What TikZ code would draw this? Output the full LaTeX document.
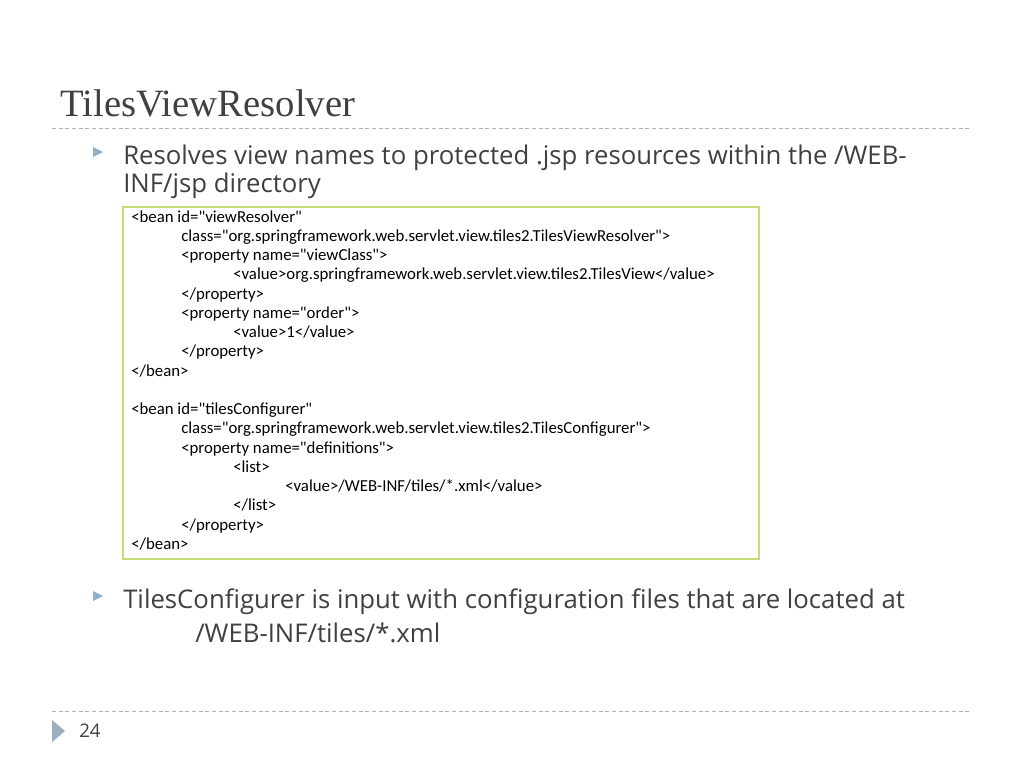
\documentclass[tikz,border=0pt]{standalone}
\usepackage{fontspec}
\setmainfont{Open Sans}
\newfontfamily\titlefont{Liberation Serif}
\newfontfamily\codefont{Carlito}
\definecolor{txtgray}{HTML}{404040}
\definecolor{rulegray}{HTML}{A8B4BC}
\definecolor{boxgreen}{HTML}{C4DD78}
\definecolor{bulblue}{HTML}{8FAFCB}
\tikzset{
  txt/.style={anchor=base west, inner sep=0pt, text=txtgray, font=\fontsize{19.3pt}{22pt}\selectfont},
  code/.style={anchor=base west, inner sep=0pt, text=black, font=\codefont\fontsize{12.6pt}{14pt}\selectfont},
  bul/.style={fill=bulblue, draw=none},
  sep/.style={rulegray, dashed, dash pattern=on 3pt off 2pt, line width=0.6pt}
}
\begin{document}
\begin{tikzpicture}[x=0.75pt, y=-0.75pt]
  \useasboundingbox (0,0) rectangle (1024,768);
  \fill[white] (0,0) rectangle (1024,768);
  % title
  \node[txt, font=\titlefont\fontsize{29pt}{32pt}\selectfont] (title) at (60,116) {TilesViewResolver};
  \draw[sep] (52,128) -- (972,128);
  % first bullet
  \fill[bul] (93,147) -- (103,152) -- (93,157) -- cycle;
  \node[txt] (b1) at (123,164) {Resolves view names to protected .jsp resources within the /WEB-};
  \node[txt] (b1b) at (123,192) {INF/jsp directory};
  % code box
  \draw[boxgreen, line width=1.2pt] (123,207) rectangle (759,559);
  \foreach \ind/\ln/\t in {
    131/0/{<bean id="viewResolver"},
    181/1/{class="org.springframework.web.servlet.view.tiles2.TilesViewResolver">},
    181/2/{<property name="viewClass">},
    233/3/{<value>org.springframework.web.servlet.view.tiles2.TilesView</value>},
    181/4/{</property>},
    181/5/{<property name="order">},
    233/6/{<value>1</value>},
    181/7/{</property>},
    131/8/{</bean>},
    131/10/{<bean id="tilesConfigurer"},
    181/11/{class="org.springframework.web.servlet.view.tiles2.TilesConfigurer">},
    181/12/{<property name="definitions">},
    233/13/{<list>},
    285/14/{<value>/WEB-INF/tiles/*.xml</value>},
    233/15/{</list>},
    181/16/{</property>},
    131/17/{</bean>}}
    \node[code] (c\ln) at (\ind,222+19.25*\ln) {\t};
  % second bullet
  \fill[bul] (93,591) -- (103,596) -- (93,601) -- cycle;
  \node[txt] (b2) at (123,608) {TilesConfigurer is input with configuration files that are located at};
  \node[txt] (b2b) at (195,642) {/WEB-INF/tiles/*.xml};
  % footer
  \draw[sep] (52,711) -- (972,711);
  \fill[bulblue!80!black!70] (52,720) -- (65,731) -- (52,742) -- cycle;
  \node[txt, font=\fontsize{14pt}{16pt}\selectfont] (page) at (79,737) {24};
\end{tikzpicture}
\end{document}
